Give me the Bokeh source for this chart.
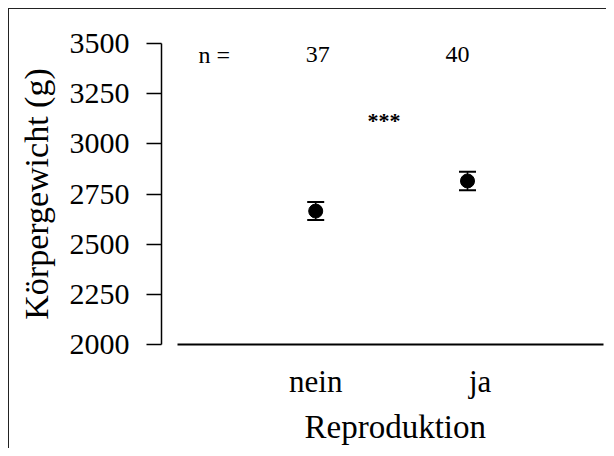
from bokeh.plotting import figure
from bokeh.models import Range1d, FixedTicker, Whisker, ColumnDataSource, TeeHead, Label, Title
from bokeh.core.properties import value
from bokeh.embed import file_html
from bokeh.resources import INLINE

# ---- data ----
categories = ["nein", "ja"]
means = [2665, 2815]
se = [45, 46]
n_counts = [37, 40]
y_ticks = [2000, 2250, 2500, 2750, 3000, 3250, 3500]
significance = "***"
x_label = "Reproduktion"
y_label = "Körpergewicht (g)"

# ---- derived ----
xpos = [1, 2]
lower = [m - s for m, s in zip(means, se)]
upper = [m + s for m, s in zip(means, se)]
label_shift = [0.0, 0.083]
tick_pos = [x + s for x, s in zip(xpos, label_shift)]

FONT = "Liberation Serif"

p = figure(width=598, height=440, output_backend="svg", toolbar_location=None,
           x_range=Range1d(-0.016, 2.896), y_range=Range1d(2000, 3500),
           min_border_left=152, min_border_top=34, min_border_right=4,
           min_border_bottom=102)
p.margin = (8, 0, 0, 8)
p.styles = {"border-left": "1px solid #222", "border-top": "1px solid #222"}
p.outline_line_color = None
p.grid.visible = False
p.background_fill_color = "white"
p.border_fill_color = "white"

# y axis
ya = p.yaxis[0]
ya.ticker = FixedTicker(ticks=y_ticks)
ya.major_tick_out = 15
ya.major_tick_in = 0
ya.minor_tick_out = 0
ya.minor_tick_in = 0
ya.axis_line_width = 1.5
ya.major_tick_line_width = 1.5
ya.major_label_text_font = FONT
ya.major_label_text_font_size = "30px"
ya.major_label_text_color = "black"
ya.major_label_standoff = 17
ya.axis_label = y_label
ya.axis_label_text_font = FONT
ya.axis_label_text_font_size = "34px"
ya.axis_label_text_font_style = "normal"
ya.axis_label_text_color = "black"
ya.axis_label_standoff = 12

# x axis
xa = p.xaxis[0]
xa.ticker = FixedTicker(ticks=tick_pos)
xa.major_label_overrides = {t: c for t, c in zip(tick_pos, categories)}
xa.bounds = (0.088, 2.896)
xa.major_tick_out = 0
xa.major_tick_in = 0
xa.minor_tick_out = 0
xa.minor_tick_in = 0
xa.axis_line_width = 2
xa.major_label_text_font = FONT
xa.major_label_text_font_size = "31px"
xa.major_label_text_color = "black"
xa.major_label_standoff = 19

# x-axis title below the axis, shifted to sit under the drawn axis line
p.add_layout(Title(text=x_label, align="left", offset=143, standoff=10,
                   text_font=FONT, text_font_size="33px",
                   text_font_style="normal", text_color="black"), "below")

src = ColumnDataSource(dict(x=xpos, mean=means, lower=lower, upper=upper,
                            n=[str(n) for n in n_counts], ny=[3445] * len(xpos),
                            noff=[2, -10]))

p.add_layout(Whisker(source=src, base="x", upper="upper", lower="lower",
                     line_width=1.5, line_color="black",
                     upper_head=TeeHead(size=17, line_width=2, line_color="black"),
                     lower_head=TeeHead(size=17, line_width=2, line_color="black")))
p.scatter("x", "mean", source=src, size=14, color="black")

p.text(x="x", y="ny", text="n", x_offset="noff", source=src,
       text_font=value(FONT), text_font_size="24px", text_color="black",
       text_align="center", text_baseline="alphabetic")
p.add_layout(Label(x=0.331, y=3445, text="n =", text_font=FONT,
                   text_font_size="24px", text_color="black",
                   text_align="center", text_baseline="alphabetic"))
p.add_layout(Label(x=1.45, y=3115, text=significance, text_font=FONT,
                   text_font_size="22px", text_font_style="bold",
                   text_color="black", text_align="center",
                   text_baseline="alphabetic"))

open("out.html", "w").write(file_html(p, INLINE))
